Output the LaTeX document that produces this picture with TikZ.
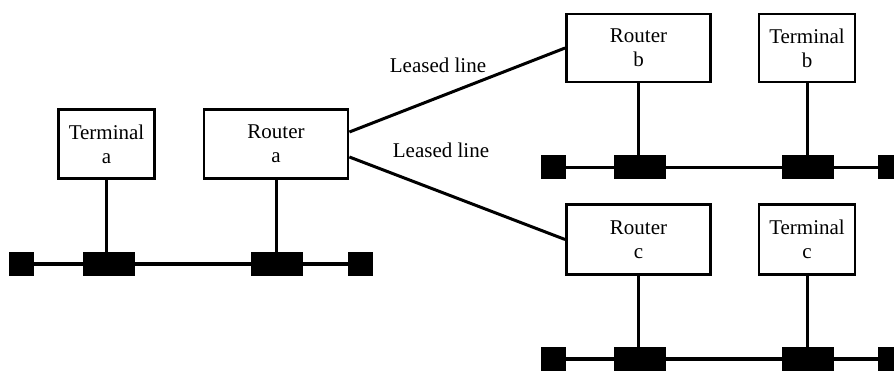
\documentclass[tikz,border=0pt]{standalone}
\usepackage{fontspec}
\setmainfont{Liberation Serif}
\begin{document}
\begin{tikzpicture}[x=1pt,y=-1pt,
  box/.style={draw, line width=2.8pt, inner sep=0pt, align=center,
    font=\fontsize{21}{24}\selectfont},
  tap/.style={fill=black, inner sep=0pt, minimum height=24pt, minimum width=52pt},
  endcap/.style={fill=black, inner sep=0pt, minimum height=24pt, minimum width=25pt},
  bus/.style={line width=3.8pt},
  drop/.style={line width=3pt},
  leased/.style={line width=3pt},
  lbl/.style={font=\fontsize{21}{24}\selectfont, inner sep=0pt}]
\useasboundingbox (0,0) rectangle (894,371);

% LAN a
\node[box, minimum width=96pt, minimum height=69pt] (ta) at (106.5,144) {Terminal\\a};
\node[box, minimum width=144pt, minimum height=69pt] (ra) at (276,144) {Router\\a};
\node[endcap] (la) at (21.5,264) {};
\node[tap] (pta) at (108.5,264) {};
\node[tap] (pra) at (277,264) {};
\node[endcap] (ea) at (360.5,264) {};
\draw[bus] (la) -- (ea);
\draw[drop] (ta.south) -- (ta.south |- pta.north);
\draw[drop] (ra.south) -- (ra.south |- pra.north);

% LAN b
\node[box, minimum width=144pt, minimum height=68pt] (rb) at (638.5,48) {Router\\b};
\node[box, minimum width=96pt, minimum height=68pt] (tb) at (807,48) {Terminal\\b};
\node[endcap] (lb) at (553.5,167.5) {};
\node[tap] (prb) at (639.5,167.5) {};
\node[tap] (ptb) at (808,167.5) {};
\node[endcap] (eb) at (890.5,167.5) {};
\draw[bus] (lb) -- (eb);
\draw[drop] (rb.south) -- (rb.south |- prb.north);
\draw[drop] (tb.south) -- (tb.south |- ptb.north);

% LAN c
\node[box, minimum width=144pt, minimum height=70pt] (rc) at (638.5,239.5) {Router\\c};
\node[box, minimum width=96pt, minimum height=70pt] (tc) at (807,239.5) {Terminal\\c};
\node[endcap] (lc) at (553.5,359) {};
\node[tap] (prc) at (639.5,359) {};
\node[tap] (ptc) at (808,359) {};
\node[endcap] (ec) at (890.5,359) {};
\draw[bus] (lc) -- (ec);
\draw[drop] (rc.south) -- (rc.south |- prc.north);
\draw[drop] (tc.south) -- (tc.south |- ptc.north);

% leased lines between the routers
\draw[leased] ([yshift=12pt]ra.east) -- (rb.west);
\draw[leased] ([yshift=-13pt]ra.east) -- (rc.west);
\node[lbl] (l1) at (438,65) {Leased line};
\node[lbl] (l2) at (441,150) {Leased line};
\end{tikzpicture}
\end{document}
